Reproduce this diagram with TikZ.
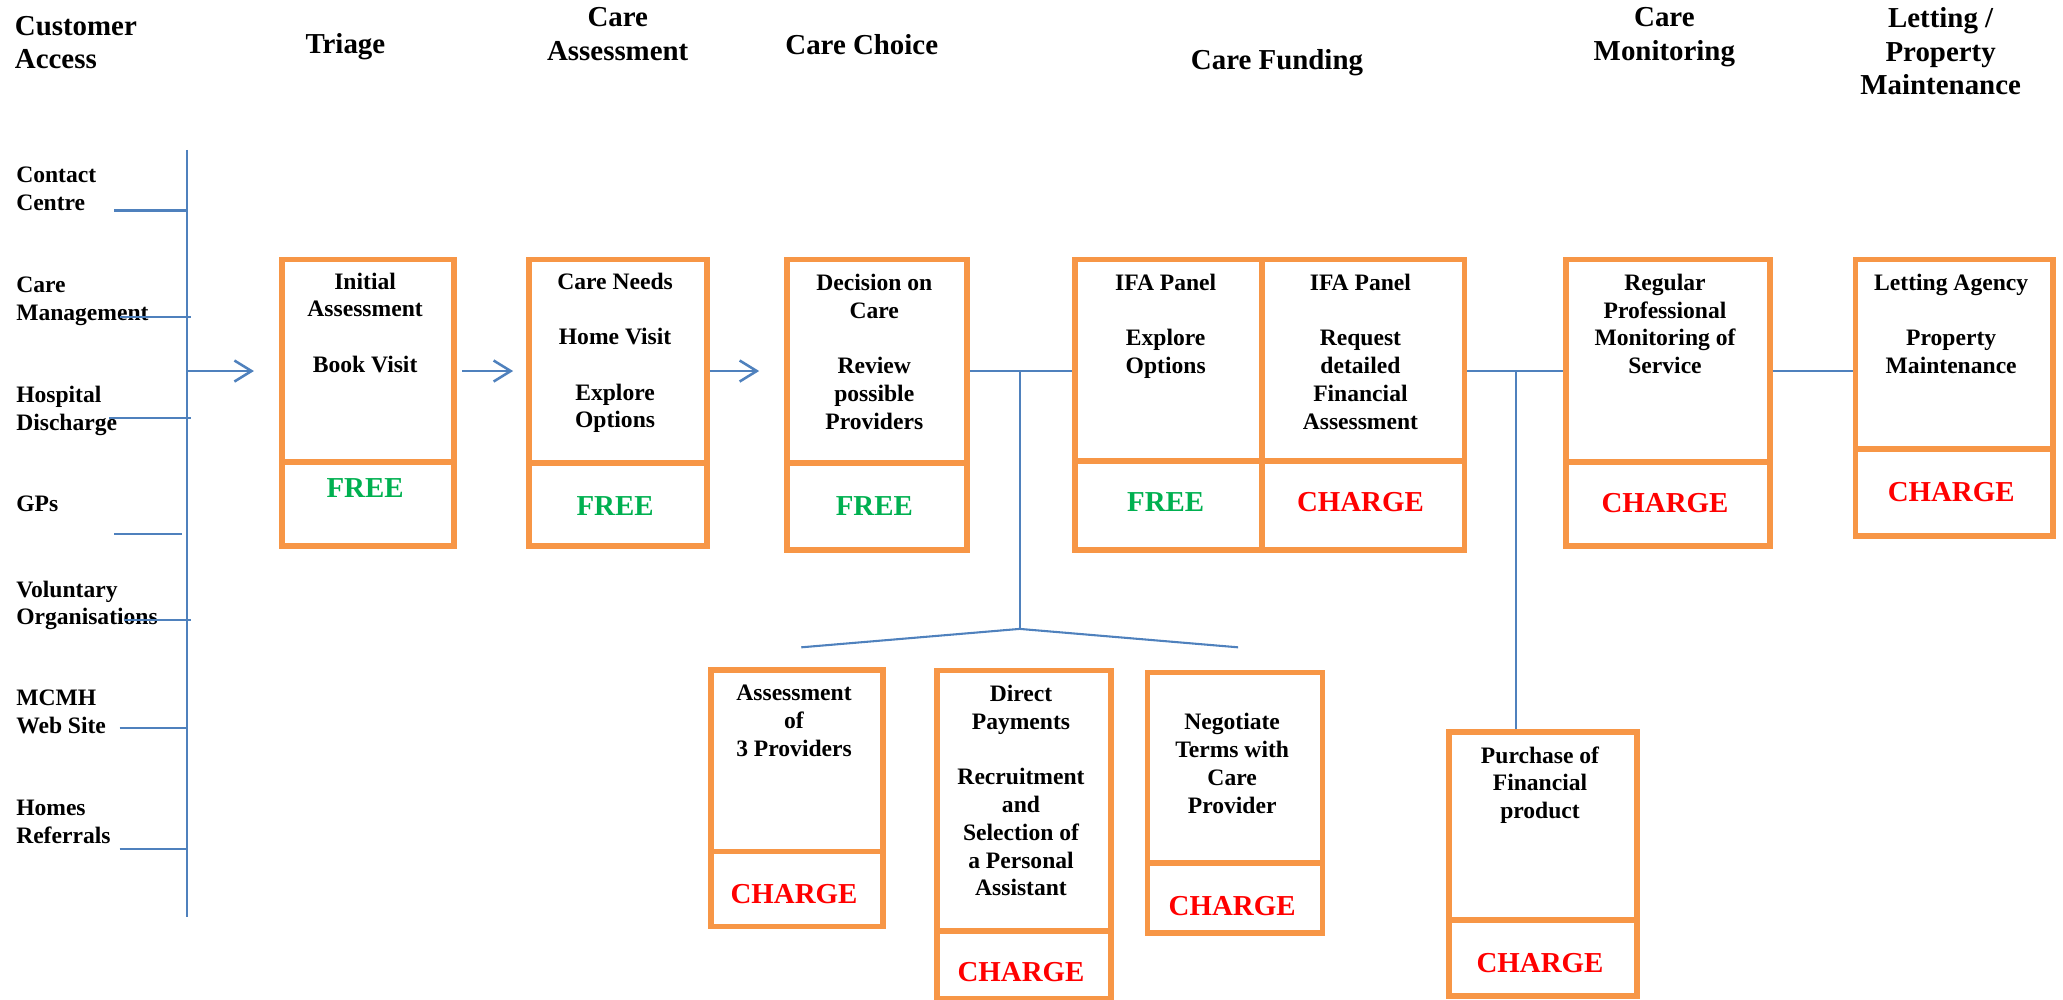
\documentclass[tikz,border=0pt]{standalone}
\usepackage{fontspec}
\setmainfont{Liberation Serif}
\usepackage{xcolor}
\usetikzlibrary{arrows.meta}
\definecolor{boxorange}{HTML}{F79646}
\definecolor{lineblue}{HTML}{4F81BD}
\definecolor{freegreen}{HTML}{00B050}
\definecolor{chargered}{HTML}{FF0000}

\begin{document}
\begin{tikzpicture}[x=0.02cm, y=-0.02cm,
box/.style={draw=boxorange, line width=2.5pt, anchor=north west, inner sep=0pt},
txt/.style={font=\fontsize{10.2}{12}\selectfont\bfseries, align=center, anchor=north, inner sep=0pt},
src/.style={font=\fontsize{10.2}{12}\selectfont\bfseries, align=left, anchor=north west, inner sep=0pt},
head/.style={font=\fontsize{12.5}{14.5}\selectfont\bfseries, align=center, inner sep=0pt},
free/.style={font=\fontsize{12.5}{15}\selectfont\bfseries, text=freegreen, anchor=base, inner sep=0pt},
charge/.style={font=\fontsize{12.5}{15}\selectfont\bfseries, text=chargered, anchor=base, inner sep=0pt},
link/.style={draw=lineblue, line width=0.9pt},
flow/.style={link, line width=1.1pt, -{Straight Barb[length=2.6mm, width=3.2mm]}}]
\useasboundingbox (0,0) rectangle (1568,760);

% column headings
\node[head, anchor=north west, align=left] (hdaccess) at (11,12) {Customer\\Access};
\node[head, anchor=base] (hdtriage) at (262.5,40.7) {Triage};
\node[head, anchor=north] (hdassess) at (469.5,5.5) {Care\\Assessment};
\node[head, anchor=base] (hdchoice) at (655,41.8) {Care Choice};
\node[head, anchor=base] (hdfunding) at (970.6,53) {Care Funding};
\node[head, anchor=north] (hdmonitor) at (1265,5.5) {Care\\Monitoring};
\node[head, anchor=north] (hdletting) at (1475,5.5) {Letting /\\Property\\Maintenance};

% access routes
\node[src] (contact) at (12,126.5) {Contact\\Centre};
\node[src] (caremgmt) at (12,210) {Care\\Management};
\node[src] (hospital) at (12,293.5) {Hospital\\Discharge};
\node[src] (gps) at (12,376.6) {GPs};
\node[src] (voluntary) at (12,441) {Voluntary\\Organisations};
\node[src] (website) at (12,524) {MCMH\\Web Site};
\node[src] (homes) at (12,607.6) {Homes\\Referrals};

\coordinate (spinetop) at (142,114);
\coordinate (spinebot) at (142,697);
\coordinate (spinemid) at (142,282);
\coordinate (row) at (0,282);
\draw[link] (spinetop) -- (spinebot);
\foreach \y/\x/\e in {160/87/143, 241/91/145, 318/83/145, 406/87/138, 471/94/145, 553/91/143, 645/91/143}
  \draw[link] (\x,\y) -- (\e,\y);

% stage boxes
\node[box, minimum width=2.62cm, minimum height=3.08cm] (triage) at (212,195) {};
\node[box, minimum width=2.62cm, minimum height=1.28cm] (triagefee) at (212,349) {};
\node[box, minimum width=2.70cm, minimum height=3.10cm] (needs) at (400,195) {};
\node[box, minimum width=2.70cm, minimum height=1.26cm] (needsfee) at (400,350) {};
\node[box, minimum width=2.74cm, minimum height=3.10cm] (decide) at (596,195) {};
\node[box, minimum width=2.74cm, minimum height=1.32cm] (decidefee) at (596,350) {};
\node[box, minimum width=2.84cm, minimum height=3.06cm] (ifaL) at (815,195) {};
\node[box, minimum width=2.84cm, minimum height=1.36cm] (ifaLfee) at (815,348) {};
\node[box, minimum width=3.08cm, minimum height=3.06cm] (ifaR) at (957,195) {};
\node[box, minimum width=3.08cm, minimum height=1.36cm] (ifaRfee) at (957,348) {};
\node[box, minimum width=3.10cm, minimum height=3.08cm] (monitor) at (1188,195) {};
\node[box, minimum width=3.10cm, minimum height=1.28cm] (monitorfee) at (1188,349) {};
\node[box, minimum width=3.00cm, minimum height=2.88cm] (letting) at (1408,195) {};
\node[box, minimum width=3.00cm, minimum height=1.32cm] (lettingfee) at (1408,339) {};
\node[box, minimum width=2.62cm, minimum height=2.76cm] (assess3) at (538,507) {};
\node[box, minimum width=2.62cm, minimum height=1.14cm] (assess3fee) at (538,645) {};
\node[box, minimum width=2.64cm, minimum height=3.96cm] (direct) at (710,507.5) {};
\node[box, minimum width=2.64cm, minimum height=1.03cm] (directfee) at (710,705.5) {};
\node[box, minimum width=2.66cm, minimum height=2.90cm] (negot) at (870,509) {};
\node[box, minimum width=2.66cm, minimum height=1.06cm] (negotfee) at (870,654) {};
\node[box, minimum width=2.86cm, minimum height=2.86cm] (purchase) at (1099,554) {};
\node[box, minimum width=2.86cm, minimum height=1.16cm] (purchasefee) at (1099,697) {};

% box texts
\node[txt] (triagetxt) at (277.5,207) {Initial\\Assessment\\[12pt]Book Visit};
\node[free] (triagecost) at (277.5,378) {FREE};
\node[txt] (needstxt) at (467.5,207) {Care Needs\\[12pt]Home Visit\\[12pt]Explore\\Options};
\node[free] (needscost) at (467.5,392) {FREE};
\node[txt] (decidetxt) at (664.5,208) {Decision on\\Care\\[12pt]Review\\possible\\Providers};
\node[free] (decidecost) at (664.5,391.5) {FREE};
\node[txt] (ifaLtxt) at (886,208) {IFA Panel\\[12pt]Explore\\Options};
\node[free] (ifaLcost) at (886,389) {FREE};
\node[txt] (ifaRtxt) at (1034,208) {IFA Panel\\[12pt]Request\\detailed\\Financial\\Assessment};
\node[charge] (ifaRcost) at (1034,389) {CHARGE};
\node[txt] (monitortxt) at (1265.5,208) {Regular\\Professional\\Monitoring of\\Service};
\node[charge] (monitorcost) at (1265.5,389.5) {CHARGE};
\node[txt] (lettingtxt) at (1483,208) {Letting Agency\\[12pt]Property\\Maintenance};
\node[charge] (lettingcost) at (1483,381.5) {CHARGE};
\node[txt] (assess3txt) at (603.5,520.5) {Assessment\\of\\3 Providers};
\node[charge] (assess3cost) at (603.5,687) {CHARGE};
\node[txt] (directtxt) at (776,520.5) {Direct\\Payments\\[12pt]Recruitment\\and\\Selection of\\a Personal\\Assistant};
\node[charge] (directcost) at (776,746) {CHARGE};
\node[txt] (negottxt) at (936.5,542) {Negotiate\\Terms with\\Care\\Provider};
\node[charge] (negotcost) at (936.5,695.5) {CHARGE};
\node[txt] (purchasetxt) at (1170.5,567) {Purchase of\\Financial\\product};
\node[charge] (purchasecost) at (1170.5,739) {CHARGE};

% connectors
\draw[flow, shorten >=0.38cm] (spinemid) -- (triage.west |- row);
\draw[flow, shorten <=0.08cm, shorten >=0.2cm] (triage.east |- row) -- (needs.west |- row);
\draw[flow, shorten >=0.38cm] (needs.east |- row) -- (decide.west |- row);
\draw[link] (decide.east |- row) -- (ifaL.west |- row);
\coordinate (fork) at (775,282);
\coordinate (forkbot) at (775,478);
\coordinate (forkleft) at (609,492);
\coordinate (forkright) at (941,492);
\draw[link] (fork) -- (forkbot);
\draw[link] (forkleft) -- (forkbot) -- (forkright);
\draw[link] (ifaR.east |- row) -- (monitor.west |- row);
\coordinate (split) at (1152,282);
\draw[link] (split) -- (split |- purchase.north);
\draw[link] (monitor.east |- row) -- (letting.west |- row);
\end{tikzpicture}
\end{document}
